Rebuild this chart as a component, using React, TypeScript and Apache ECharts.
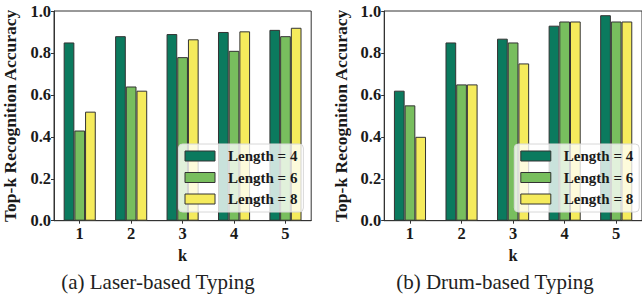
import React, { useEffect, useRef } from "react";
import * as echarts from "echarts";

const categories = ["1", "2", "3", "4", "5"];
const seriesNames = ["Length = 4", "Length = 6", "Length = 8"];
const laserL4 = [0.85, 0.88, 0.89, 0.9, 0.91];
const laserL6 = [0.43, 0.64, 0.78, 0.81, 0.88];
const laserL8 = [0.52, 0.62, 0.865, 0.903, 0.92];
const drumL4 = [0.62, 0.85, 0.868, 0.93, 0.98];
const drumL6 = [0.55, 0.65, 0.85, 0.95, 0.95];
const drumL8 = [0.4, 0.65, 0.75, 0.95, 0.95];
const yTicks = [0, 0.2, 0.4, 0.6, 0.8, 1.0];
const captions = ["(a) Laser-based Typing", "(b) Drum-based Typing"];
const colors = ["#0b7a5e", "#78be5e", "#f5eb5c"];

const FONT = "'Liberation Serif', 'DejaVu Serif', serif";

export default function App() {
  const ref = useRef<HTMLDivElement>(null);
  useEffect(() => {
    if (!ref.current) return;
    const chart = echarts.init(ref.current, undefined, { renderer: "svg" });
    const grids = [
      { left: 48.7, top: 11, width: 262.5, height: 209.7 },
      { left: 384.2, top: 11, width: 260.5, height: 209.7 },
    ];
    const panels = [
      [laserL4, laserL6, laserL8],
      [drumL4, drumL6, drumL8],
    ];
    const series: any[] = [];
    panels.forEach((vals, gi) => {
      vals.forEach((d, si) => {
        series.push({
          type: "bar",
          name: seriesNames[si],
          xAxisIndex: gi,
          yAxisIndex: gi,
          data: d,
          barWidth: 10.7,
          barGap: "0%",
          itemStyle: { color: colors[si], borderColor: "#333", borderWidth: 1 },
        });
      });
    });
    const axisText = { fontFamily: FONT, fontWeight: "bold", fontSize: 16.5, color: "#1a1a1a" };
    chart.setOption({
      animation: false,
      grid: grids.map((g) => ({
        ...g,
        show: true,
        borderColor: "#333",
        borderWidth: 1,
        backgroundColor: "transparent",
      })),
      xAxis: grids.map((_, gi) => ({
        type: "category",
        gridIndex: gi,
        data: categories,
        name: "k",
        nameLocation: "middle",
        nameGap: 26,
        nameTextStyle: axisText,
        axisLine: { lineStyle: { color: "#333", width: 1 } },
        axisTick: { show: true, alignWithLabel: true, length: 3, lineStyle: { color: "#333" } },
        axisLabel: { ...axisText, margin: 4 },
        splitLine: { show: false },
      })),
      yAxis: grids.map((_, gi) => ({
        type: "value",
        gridIndex: gi,
        min: yTicks[0],
        max: yTicks[yTicks.length - 1],
        interval: 0.2,
        name: "Top-k Recognition Accuracy",
        nameLocation: "middle",
        nameGap: gi === 0 ? 35 : 34,
        nameTextStyle: { ...axisText, fontSize: 17.5 },
        axisLine: { show: true, lineStyle: { color: "#333", width: 1 } },
        axisTick: { show: true, length: 3, lineStyle: { color: "#333" } },
        axisLabel: { ...axisText, margin: 3, formatter: (v: number) => v.toFixed(1) },
        splitLine: { show: false },
      })),
      legend: [178.5, 514.3].map((left) => ({
        left,
        top: 144,
        orient: "vertical",
        data: seriesNames,
        itemWidth: 30,
        itemHeight: 10,
        itemGap: 5.5,
        padding: [4, 6, 5, 6],
        backgroundColor: "rgba(255,255,255,0.78)",
        borderColor: "#d8d8d8",
        borderWidth: 1,
        borderRadius: 4,
        selectedMode: false,
        icon: "rect",
        itemStyle: { borderColor: "#333", borderWidth: 1 },
        textStyle: { ...axisText, fontSize: 15, lineHeight: 16, padding: [0, 0, 0, 8] },
      })),
      graphic: captions.map((t, i) => ({
        type: "text",
        x: i === 0 ? 158 : 495,
        y: 282,
        style: {
          text: t,
          fontFamily: FONT,
          fontSize: 21,
          fill: "#222",
          textAlign: "center",
          textVerticalAlign: "middle",
        },
      })),
      series,
    });
    return () => chart.dispose();
  }, []);
  return (
    <div
      ref={ref}
      style={{ position: "fixed", left: 0, top: 0, width: 642, height: 296, background: "#fff" }}
    />
  );
}
